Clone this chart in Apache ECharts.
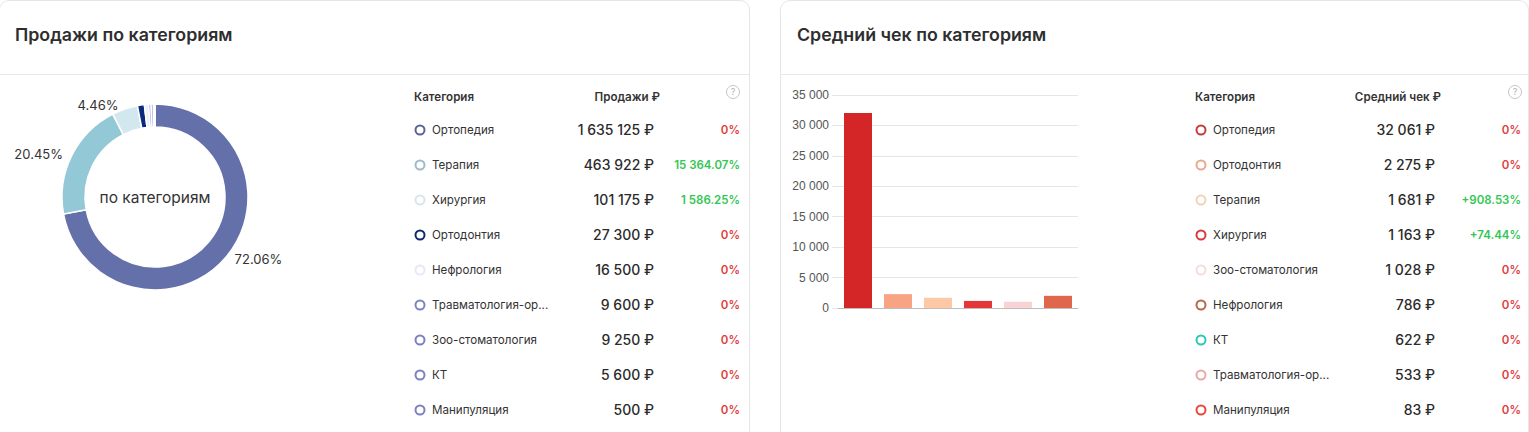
<!DOCTYPE html>
<html>
<head>
<meta charset="utf-8">
<script src="https://cdn.jsdelivr.net/npm/echarts@6/dist/echarts.min.js"></script>
<style>
  html, body { margin:0; padding:0; background:#fff; width:1529px; height:432px; overflow:hidden; font-family: Inter, "Noto Sans", sans-serif; color:#333; }
  .card { position:absolute; top:0; height:460px; background:#fff; border:1px solid #e6e6e6; border-radius:10px; box-sizing:border-box; }
  .hdr { position:absolute; left:0; right:0; top:0; height:73px; border-bottom:1px solid #e8e8e8; }
  .title { position:absolute; top:24px; font-size:17.8px; font-weight:600; color:#2e2e2e; white-space:nowrap; }
  .t { position:absolute; white-space:nowrap; line-height:16px; transform:translateY(-50%); }
  .th { font-size:11.6px; font-weight:600; color:#333; }
  .nm { font-size:11.6px; color:#333; }
  .val { font-size:14px; font-weight:500; color:#2b2b2b; text-align:right; }
  .chg { font-size:11.5px; font-weight:600; text-align:right; }
  .dot { position:absolute; width:11px; height:11px; border-radius:50%; box-sizing:border-box; border:2px solid #999; transform:translate(-50%,-50%); }
  .q { position:absolute; width:14px; height:14px; border-radius:50%; border:1px solid #c4c4c4; box-sizing:border-box; transform:translate(-50%,-50%); font-size:9px; color:#b0b0b0; text-align:center; line-height:12px; }
  #chart { position:absolute; left:0; top:0; width:1529px; height:432px; }
</style>
</head>
<body>
<div class="card" style="left:-1px; width:751px;"><div class="hdr"></div></div>
<div class="card" style="left:780px; width:749px;"><div class="hdr"></div></div>
<div class="title" style="left:15px;">Продажи по категориям</div>
<div class="title" style="left:797px;">Средний чек по категориям</div>
<div id="tables"></div>
<div id="chart"></div>
<script>
// ---------- data ----------
const salesCategories = ['Ортопедия','Терапия','Хирургия','Ортодонтия','Нефрология','Травматология-ортопедия','Зоо-стоматология','КТ','Манипуляция'];
const salesValues = [1635125, 463922, 101175, 27300, 16500, 9600, 9250, 5600, 500];
const salesChanges = ['0%','15 364.07%','1 586.25%','0%','0%','0%','0%','0%','0%'];

const avgCategories = ['Ортопедия','Ортодонтия','Терапия','Хирургия','Зоо-стоматология','Нефрология','КТ','Травматология-ортопедия','Манипуляция'];
const avgValues = [32061, 2275, 1681, 1163, 1028, 786, 622, 533, 83];
const avgChanges = ['0%','0%','+908.53%','+74.44%','0%','0%','0%','0%','0%'];

const barCategories = ['Ортопедия','Ортодонтия','Терапия','Хирургия','Зоо-стоматология','Нефрология'];
const barValues = [32061, 2275, 1681, 1163, 1028, 2000];

const yTicks = [0, 5000, 10000, 15000, 20000, 25000, 30000, 35000];

// ---------- palettes (styles) ----------
const pieColors = ['#6470aa','#93c8d6','#d3e7ef','#0b2a7e','#eef0fb','#9a9fe0','#8d93d8','#8a90d6','#8a90d6'];
const salesDotColors = ['#5a6494','#9dbccb','#d8e5ec','#0e2a6c','#e6e8f6','#7d82c0','#7b80c0','#7b80c0','#7b80c0'];
const barColors = ['#d42626','#f8a383','#fcc8a6','#e43636','#f9d4d4','#e0674b'];
const avgDotColors = ['#c43a3e','#e6aa90','#f3d2b9','#d63a3e','#f6dcdc','#b2694c','#2ec6b5','#e8a8a8','#e8483a'];

function fmt(n){ return String(n).replace(/\B(?=(\d{3})+(?!\d))/g, ' '); }
function shortName(s){ return s.length > 16 ? s.slice(0,16) + '...' : s; }

// ---------- tables ----------
const tables = document.getElementById('tables');
function addEl(cls, html, style){
  const d = document.createElement('div');
  d.className = cls; d.innerHTML = html; d.setAttribute('style', style);
  tables.appendChild(d);
}
function buildTable(x0, valHeader, valRight, chgRight, qx, cats, vals, chgs, dots){
  addEl('t th', 'Категория', `left:${x0}px; top:97px;`);
  addEl('t th', valHeader, `right:${1529-valRight}px; top:97px;`);
  addEl('q', '?', `left:${qx}px; top:92px;`);
  cats.forEach((c, i) => {
    const y = 130 + 35*i;
    addEl('dot', '', `left:${x0+6}px; top:${y}px; border-color:${dots[i]};`);
    addEl('t nm', shortName(c), `left:${x0+18}px; top:${y}px;`);
    addEl('t val', fmt(vals[i]) + ' ₽', `right:${1529-valRight+6}px; top:${y}px;`);
    const col = chgs[i] === '0%' ? '#e0403f' : '#33c653';
    addEl('t chg', chgs[i], `right:${1529-chgRight}px; top:${y}px; color:${col};`);
  });
}
buildTable(414, 'Продажи ₽', 660, 740, 733, salesCategories, salesValues, salesChanges, salesDotColors);
buildTable(1195, 'Средний чек ₽', 1441, 1521, 1515, avgCategories, avgValues, avgChanges, avgDotColors);

// ---------- chart ----------
const chart = echarts.init(document.getElementById('chart'), null, {renderer:'svg'});
chart.setOption({
  animation: false,
  backgroundColor: 'transparent',
  graphic: [{
    type: 'text', x: 155, y: 197,
    style: { text: 'по категориям', fontSize: 15.5, fill: '#333', align: 'center', verticalAlign: 'middle', fontFamily: 'Inter, "Noto Sans", sans-serif' }
  }],
  grid: { left: 838, right: 1529-1078, top: 95, bottom: 432-308, containLabel: false },
  xAxis: {
    type: 'category', data: barCategories,
    axisLine: { show: true, lineStyle: { color: '#bdbdbd' } },
    axisTick: { show: false }, axisLabel: { show: false }
  },
  yAxis: {
    type: 'value', min: 0, max: 35000, interval: 5000,
    axisLine: { show: false },
    axisTick: { show: true, length: 6, lineStyle: { color: '#e6e6e6' } },
    splitLine: { lineStyle: { color: '#e6e6e6' } },
    axisLabel: { margin: 9, fontSize: 12, color: '#555', fontFamily: '"Liberation Sans", Arial, sans-serif', formatter: v => fmt(v) }
  },
  series: [
    {
      type: 'pie',
      center: [155, 197], radius: [70, 93],
      startAngle: 90, clockwise: true,
      minShowLabelAngle: 8,
      itemStyle: { borderColor: '#fff', borderWidth: 1.5 },
      label: { show: true, position: 'outside', fontSize: 13, color: '#333', fontFamily: 'Inter, "Noto Sans", sans-serif',
               formatter: p => p.percent.toFixed(2) + '%' },
      labelLine: { show: false, length: 4, length2: 0 },
      emphasis: { disabled: true },
      data: salesCategories.map((n, i) => ({ name: n, value: salesValues[i], itemStyle: { color: pieColors[i] } }))
    },
    {
      type: 'bar',
      barWidth: '70%',
      data: barValues.map((v, i) => ({ value: v, itemStyle: { color: barColors[i] } }))
    }
  ]
});
</script>
</body>
</html>
